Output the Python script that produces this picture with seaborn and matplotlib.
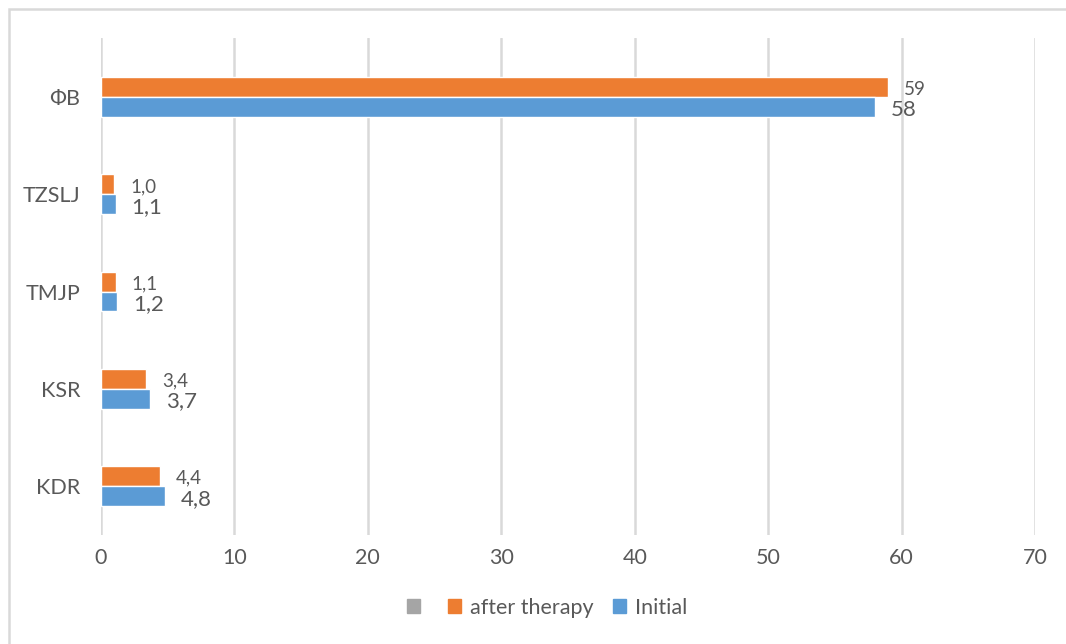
import pandas as pd
import matplotlib
matplotlib.use("Agg")
import matplotlib.pyplot as plt
import matplotlib.patches as mpatches
import seaborn as sns

# data
categories = ["ФВ", "TZSLJ", "TMJP", "KSR", "KDR"]
after_therapy = [59, 1.0, 1.1, 3.4, 4.4]
initial = [58, 1.1, 1.2, 3.7, 4.8]
after_labels = ["59", "1,0", "1,1", "3,4", "4,4"]
initial_labels = ["58", "1,1", "1,2", "3,7", "4,8"]
series_names = ["", "after therapy", "Initial"]
x_ticks = [0, 10, 20, 30, 40, 50, 60, 70]

df = pd.DataFrame({
    "category": categories * 2,
    "value": after_therapy + initial,
    "series": ["after therapy"] * len(categories) + ["Initial"] * len(categories),
})

sns.set_theme(style="white")
plt.rcParams["font.family"] = ["Lato", "DejaVu Sans"]

text_color = "#595959"
grid_color = "#D9D9D9"
colors = {"": "#A5A5A5", "after therapy": "#ED7D31", "Initial": "#5B9BD5"}

fig = plt.figure(figsize=(10.66, 6.44), dpi=100)
ax = fig.add_axes([101 / 1066, 1 - 535 / 644, (1035 - 101) / 1066, (535 - 38) / 644])

sns.barplot(data=df, y="category", x="value", hue="series", order=categories,
            hue_order=["after therapy", "Initial"], palette=colors,
            orient="h", width=0.41, saturation=1, ax=ax, legend=False)

ax.set_xlim(0, 70)
ax.set_ylim(4.504, -0.607)
ax.set_xticks(x_ticks)
ax.set_xticklabels([str(t) for t in x_ticks], fontsize=15.5, color=text_color)
ax.tick_params(axis="x", length=0, pad=9)
ax.tick_params(axis="y", length=0, pad=15, labelsize=15.5, labelcolor=text_color)
ax.set_xlabel("")
ax.set_ylabel("")
for s in ax.spines.values():
    s.set_visible(False)
ax.xaxis.grid(True, color=grid_color, linewidth=1.8)
ax.set_axisbelow(True)

# value labels
for cont, labs, size, dy in [(ax.containers[0], after_labels, 13.5, 1.5),
                             (ax.containers[1], initial_labels, 16, 2)]:
    for bar, lab in zip(cont, labs):
        y = bar.get_y() + bar.get_height() / 2
        ax.annotate(lab, (bar.get_width(), y), xytext=(11.5, -dy),
                    textcoords="offset points", ha="left", va="center",
                    fontsize=size, color=text_color)

# legend with the empty grey series first
handles = [mpatches.Patch(color=colors[n], label=n) for n in series_names]
fig.legend(handles=handles, loc="center", bbox_to_anchor=(0.513, 1 - 608 / 644),
           ncol=3, frameon=False, fontsize=15.5, labelcolor=text_color,
           handlelength=0.62, handleheight=0.62, handletextpad=0.4, columnspacing=0.9)

# chart border
fig.patches.append(mpatches.Rectangle((9 / 1066, -0.05), 1.1, 1 - 9 / 644 + 0.05,
                                      transform=fig.transFigure, fill=False,
                                      edgecolor=grid_color, linewidth=1.8))

fig.savefig("out.png", dpi=100)
